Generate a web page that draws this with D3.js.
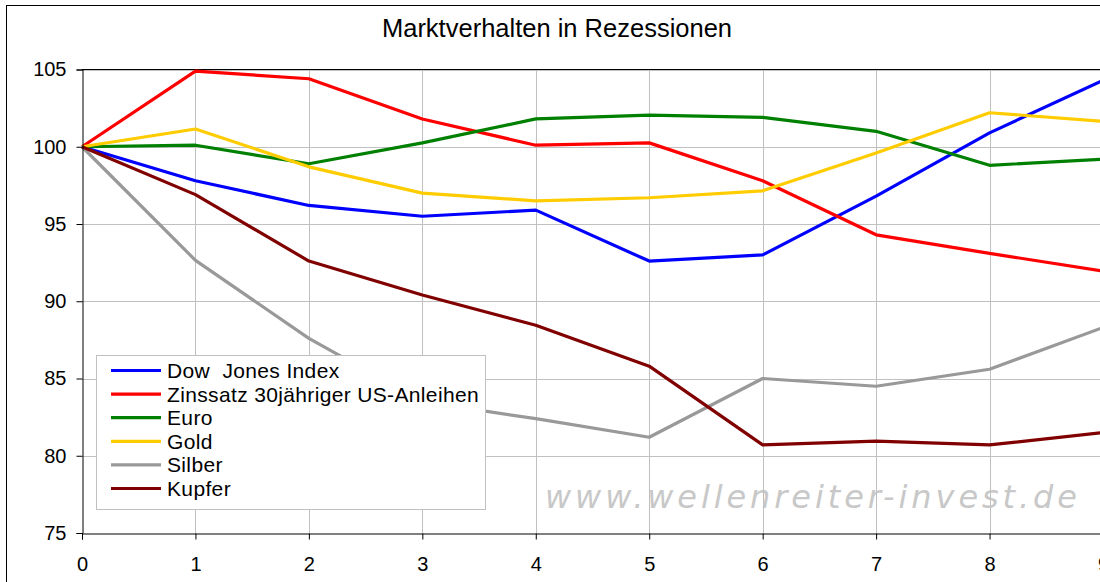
<!DOCTYPE html>
<html>
<head>
<meta charset="utf-8">
<script src="https://cdn.jsdelivr.net/npm/d3@7"></script>
<style>
html, body { margin: 0; padding: 0; background: #fff; }
svg { display: block; }
text { font-family: "Liberation Sans", Arial, sans-serif; }
</style>
</head>
<body>
<svg id="chart" width="1100" height="582"></svg>
<script>
const title = "Marktverhalten in Rezessionen";
const xValues = [0, 1, 2, 3, 4, 5, 6, 7, 8, 9];
const yTicks = [75, 80, 85, 90, 95, 100, 105];
const seriesNames = ["Dow  Jones Index", "Zinssatz 30jähriger US-Anleihen", "Euro", "Gold", "Silber", "Kupfer"];
const seriesColors = ["#0000ff", "#ff0000", "#008000", "#ffcc00", "#999999", "#800000"];
const dow    = [100, 97.8, 96.2, 95.5, 95.9, 92.6, 93.0, 96.8, 100.9, 104.3];
const zins   = [100, 104.9, 104.4, 101.8, 100.1, 100.25, 97.8, 94.3, 93.1, 91.95];
const euro   = [100, 100.1, 98.9, 100.25, 101.8, 102.05, 101.9, 101.0, 98.8, 99.2];
const gold   = [100, 101.15, 98.7, 97.0, 96.5, 96.7, 97.15, 99.6, 102.2, 101.65];
const silber = [100, 92.65, 87.6, 83.5, 82.4, 81.2, 85.0, 84.5, 85.6, 88.3];
const kupfer = [100, 96.9, 92.6, 90.4, 88.45, 85.8, 80.7, 80.95, 80.7, 81.5];
const seriesValues = [dow, zins, euro, gold, silber, kupfer];
const watermark = "www.wellenreiter-invest.de";

const svg = d3.select("#chart");
const L = 82, R = 1103, T = 69.5, B = 533;

const x = d3.scaleLinear().domain([0, 9]).range([L, R]);
const y = d3.scaleLinear().domain([75, 105]).range([B, T]);

// outer chart border
svg.append("rect").attr("x", 6.5).attr("y", 5.5).attr("width", 1200).attr("height", 700)
  .attr("fill", "#fff").attr("stroke", "#000").attr("stroke-width", 1);

// title
svg.append("text").attr("x", 557).attr("y", 36.5).attr("text-anchor", "middle")
  .attr("font-size", 25.5).attr("fill", "#000").text(title);

// watermark
svg.append("text").attr("x", 545).attr("y", 507.5)
  .attr("font-size", 32).attr("font-style", "italic").attr("fill", "#c8c8c8")
  .style("font-family", "'DejaVu Sans', Verdana, sans-serif")
  .attr("textLength", 532).attr("lengthAdjust", "spacing")
  .text(watermark);

// gridlines
const grid = svg.append("g");
grid.selectAll("line.v").data(xValues.slice(1)).enter().append("line")
  .attr("x1", d => Math.round(x(d)) + 0.5).attr("x2", d => Math.round(x(d)) + 0.5)
  .attr("y1", T).attr("y2", B).attr("stroke", "#c0c0c0").attr("stroke-width", 1);
grid.selectAll("line.h").data(yTicks.slice(1)).enter().append("line")
  .attr("x1", L).attr("x2", R)
  .attr("y1", d => Math.round(y(d)) + 0.5).attr("y2", d => Math.round(y(d)) + 0.5)
  .attr("stroke", "#c0c0c0").attr("stroke-width", 1);

// plot area top border
svg.append("line").attr("x1", L).attr("x2", 1200).attr("y1", T).attr("y2", T)
  .attr("stroke", "#000").attr("stroke-width", 1);

// lines
const lineGen = d3.line().x((d, i) => x(xValues[i])).y(d => y(d));
seriesValues.forEach((vals, i) => {
  svg.append("path").datum(vals).attr("d", lineGen)
    .attr("fill", "none").attr("stroke", seriesColors[i])
    .attr("stroke-width", 3.2).attr("stroke-linejoin", "round");
});

// axes
const yAxis = d3.axisLeft(y).tickValues(yTicks).tickSize(6).tickPadding(10).tickFormat(d3.format("d"));
const gy = svg.append("g").attr("transform", `translate(${L + 0.5},0)`).call(yAxis);
gy.select(".domain").attr("stroke", "#000");
gy.selectAll("text").attr("font-size", 20).attr("fill", "#000")
  .style("font-family", "'Liberation Sans', Arial, sans-serif");

const xAxis = d3.axisBottom(x).tickValues(xValues).tickSize(6).tickPadding(17).tickFormat(d3.format("d"));
const gx = svg.append("g").attr("transform", `translate(0,${B + 0.5})`).call(xAxis);
gx.select(".domain").attr("stroke", "#000");
gx.selectAll("text").attr("font-size", 20).attr("fill", "#000")
  .style("font-family", "'Liberation Sans', Arial, sans-serif");

// legend
const lg = svg.append("g");
lg.append("rect").attr("x", 96.5).attr("y", 355.5).attr("width", 389).attr("height", 154)
  .attr("fill", "#fff").attr("stroke", "#c0c0c0").attr("stroke-width", 1);
seriesNames.forEach((name, i) => {
  const cy = 370.5 + i * 23.6;
  lg.append("line").attr("x1", 111).attr("x2", 161).attr("y1", cy).attr("y2", cy)
    .attr("stroke", seriesColors[i]).attr("stroke-width", 3.2);
  lg.append("text").attr("x", 167).attr("y", cy + 7.5).attr("font-size", 21)
    .attr("letter-spacing", 0.35).attr("fill", "#000")
    .attr("xml:space", "preserve").style("white-space", "pre").text(name);
});
</script>
</body>
</html>
